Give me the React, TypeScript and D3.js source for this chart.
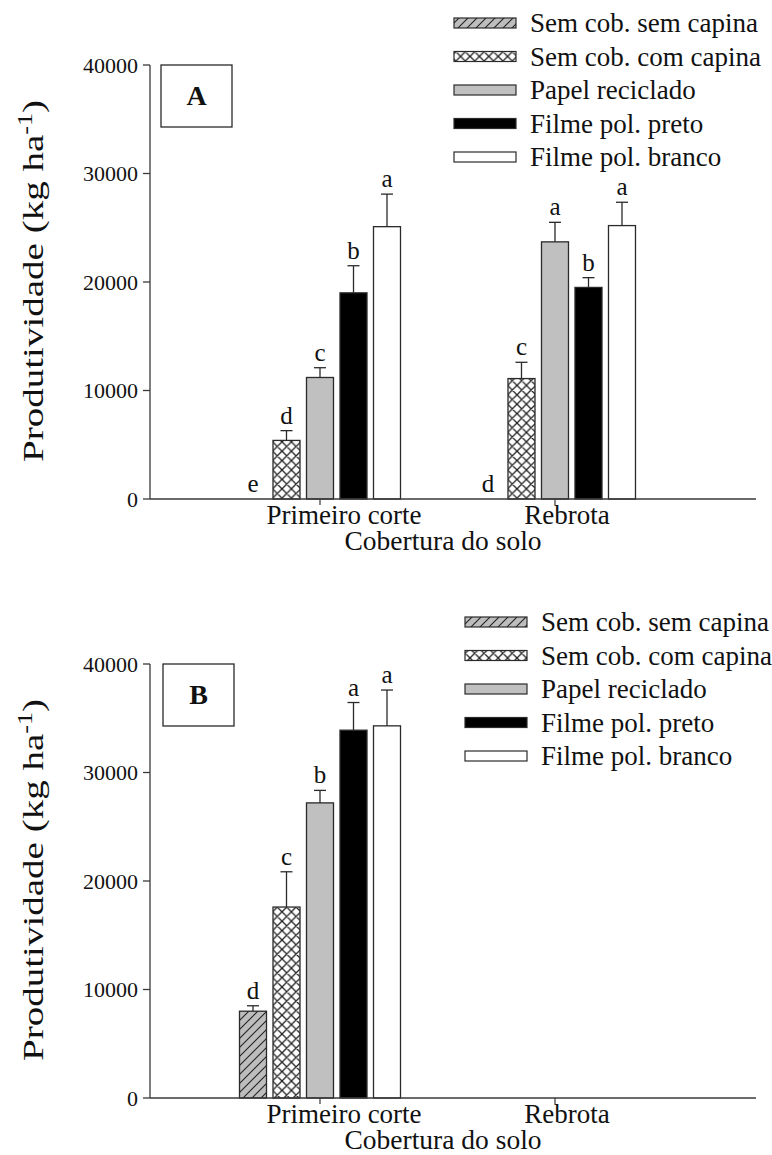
import React from "react";
import * as d3 from "d3";

const seriesNames = [
  "Sem cob. sem capina",
  "Sem cob. com capina",
  "Papel reciclado",
  "Filme pol. preto",
  "Filme pol. branco",
];
const categories = ["Primeiro corte", "Rebrota"];
const yTicks = [0, 10000, 20000, 30000, 40000];

// Panel A
const aPrimeiroMean = [0, 5400, 11200, 19000, 25100];
const aPrimeiroErr = [0, 900, 900, 2500, 3000];
const aPrimeiroLetters = ["e", "d", "c", "b", "a"];
const aRebrotaMean = [0, 11100, 23700, 19500, 25200];
const aRebrotaErr = [0, 1500, 1800, 900, 2150];
const aRebrotaLetters = ["d", "c", "a", "b", "a"];

// Panel B
const bPrimeiroMean = [8000, 17600, 27200, 33900, 34300];
const bPrimeiroErr = [500, 3250, 1150, 2550, 3300];
const bPrimeiroLetters = ["d", "c", "b", "a", "a"];
const bRebrotaMean = [0, 0, 0, 0, 0];
const bRebrotaErr = [0, 0, 0, 0, 0];
const bRebrotaLetters = ["", "", "", "", ""];

const panels = [
  {
    label: "A",
    means: [aPrimeiroMean, aRebrotaMean],
    errs: [aPrimeiroErr, aRebrotaErr],
    letters: [aPrimeiroLetters, aRebrotaLetters],
  },
  {
    label: "B",
    means: [bPrimeiroMean, bRebrotaMean],
    errs: [bPrimeiroErr, bRebrotaErr],
    letters: [bPrimeiroLetters, bRebrotaLetters],
  },
];

const FONT = "Liberation Serif, Times New Roman, serif";
const fills = ["url(#hatch)", "url(#cross)", "#c0c0c0", "#000000", "#ffffff"];
const catLabelDx = [24, 12];

function Panel({ p, offY, legendX }: { p: any; offY: number; legendX: number }) {
  const y = d3.scaleLinear().domain([0, 40000]).range([499 + offY, 65 + offY]);
  const x = d3
    .scaleBand<string>()
    .domain(categories)
    .range([150, 756])
    .paddingInner(0)
    .paddingOuter(0.2894)
    .align(0.386);
  const inner = d3
    .scaleBand<number>()
    .domain(d3.range(seriesNames.length))
    .range([-80.5, 80.5])
    .paddingInner(0.194)
    .paddingOuter(0);
  const bw = inner.bandwidth();
  const y0 = y(0);
  const axisColor = "#3a3a3a";

  return (
    <g>
      {/* bars */}
      {categories.map((c, ci) => {
        const cx = (x(c) as number) + x.bandwidth() / 2;
        return (
          <g key={c}>
            {seriesNames.map((s, si) => {
              const v = p.means[ci][si];
              const e = p.errs[ci][si];
              const bx = cx + (inner(si) as number);
              const top = y(v);
              const errTop = y(v + e);
              const letter = p.letters[ci][si];
              return (
                <g key={s}>
                  {v > 0 && (
                    <rect
                      x={bx}
                      y={top}
                      width={bw}
                      height={y0 - top}
                      fill={fills[si]}
                      stroke="#2a2a2a"
                      strokeWidth={1.3}
                    />
                  )}
                  {e > 0 && (
                    <g stroke="#2a2a2a" strokeWidth={1.3}>
                      <line x1={bx + bw / 2} x2={bx + bw / 2} y1={top} y2={errTop} />
                      <line x1={bx + bw / 2 - 6} x2={bx + bw / 2 + 6} y1={errTop} y2={errTop} />
                    </g>
                  )}
                  {letter && (
                    <text
                      x={bx + bw / 2}
                      y={(e > 0 ? errTop : top) - 7}
                      textAnchor="middle"
                      fontFamily={FONT}
                      fontSize={25}
                      fill="#111"
                    >
                      {letter}
                    </text>
                  )}
                </g>
              );
            })}
          </g>
        );
      })}

      {/* y axis */}
      <line x1={150} x2={150} y1={y(40000)} y2={y0} stroke={axisColor} strokeWidth={1.3} />
      {yTicks.map((t) => (
        <g key={t}>
          <line x1={143} x2={150} y1={y(t)} y2={y(t)} stroke={axisColor} strokeWidth={1.3} />
          <text
            x={138}
            y={y(t)}
            dy="0.35em"
            textAnchor="end"
            fontFamily={FONT}
            fontSize={22}
            fill="#111"
          >
            {d3.format("d")(t)}
          </text>
        </g>
      ))}

      {/* x axis */}
      <line x1={150} x2={756} y1={y0} y2={y0} stroke={axisColor} strokeWidth={1.3} />
      {categories.map((c, ci) => {
        const cx = (x(c) as number) + x.bandwidth() / 2;
        return (
          <g key={c}>
            <line x1={cx} x2={cx} y1={y0} y2={y0 + 6} stroke={axisColor} strokeWidth={1.2} />
            <text
              x={cx + catLabelDx[ci]}
              y={524 + offY}
              textAnchor="middle"
              fontFamily={FONT}
              fontSize={27}
              fill="#111"
            >
              {c}
            </text>
          </g>
        );
      })}
      <text x={443} y={550 + offY} textAnchor="middle" fontFamily={FONT} fontSize={27.5} fill="#111">
        Cobertura do solo
      </text>

      {/* y label */}
      <text
        transform={`translate(43,${281 + offY}) rotate(-90)`}
        textAnchor="middle"
        fontFamily={FONT}
        fontSize={30}
        fill="#111"
        textLength={362}
        lengthAdjust="spacingAndGlyphs"
      >
        Produtividade (kg ha
        <tspan dy={-11} fontSize={20}>
          -1
        </tspan>
        <tspan dy={11}>)</tspan>
      </text>

      {/* panel letter box */}
      <rect
        x={161 + (p.label === "B" ? 2 : 0)}
        y={65 + offY}
        width={71}
        height={62}
        fill="#fff"
        stroke="#2a2a2a"
        strokeWidth={1.3}
      />
      <text
        x={196.5 + (p.label === "B" ? 2 : 0)}
        y={105 + offY}
        textAnchor="middle"
        fontFamily={FONT}
        fontWeight="bold"
        fontSize={28}
        fill="#111"
      >
        {p.label}
      </text>

      {/* legend */}
      {seriesNames.map((s, si) => {
        const ry = 23 + offY + si * 33.5;
        return (
          <g key={s}>
            <rect
              x={legendX}
              y={ry - 5}
              width={62}
              height={10}
              fill={fills[si]}
              stroke="#2a2a2a"
              strokeWidth={1.2}
            />
            <text
              x={legendX + 76}
              y={ry}
              dy="0.35em"
              fontFamily={FONT}
              fontSize={27}
              fill="#111"
            >
              {s}
            </text>
          </g>
        );
      })}
    </g>
  );
}

export default function App() {
  return (
    <svg
      width={772}
      height={1155}
      style={{ position: "absolute", left: 0, top: 0, background: "#fff" }}
    >
      <defs>
        <pattern id="hatch" patternUnits="userSpaceOnUse" width={9} height={9}>
          <rect width={9} height={9} fill="#bdbdbd" />
          <path d="M0,9 L9,0 M-2,2 L2,-2 M7,11 L11,7" stroke="#222" strokeWidth={1.1} />
        </pattern>
        <pattern id="cross" patternUnits="userSpaceOnUse" width={9.4} height={9.4}>
          <rect width={9.4} height={9.4} fill="#fff" />
          <path
            d="M0,0 L9.4,9.4 M0,9.4 L9.4,0 M-2,2 L2,-2 M7.4,11.4 L11.4,7.4 M-2,7.4 L2,11.4 M7.4,-2 L11.4,2"
            stroke="#222"
            strokeWidth={1.3}
          />
        </pattern>
      </defs>
      <rect width={772} height={1155} fill="#fff" />
      {panels.map((p, i) => (
        <Panel key={p.label} p={p} offY={i * 599} legendX={i === 0 ? 454 : 465} />
      ))}
    </svg>
  );
}
